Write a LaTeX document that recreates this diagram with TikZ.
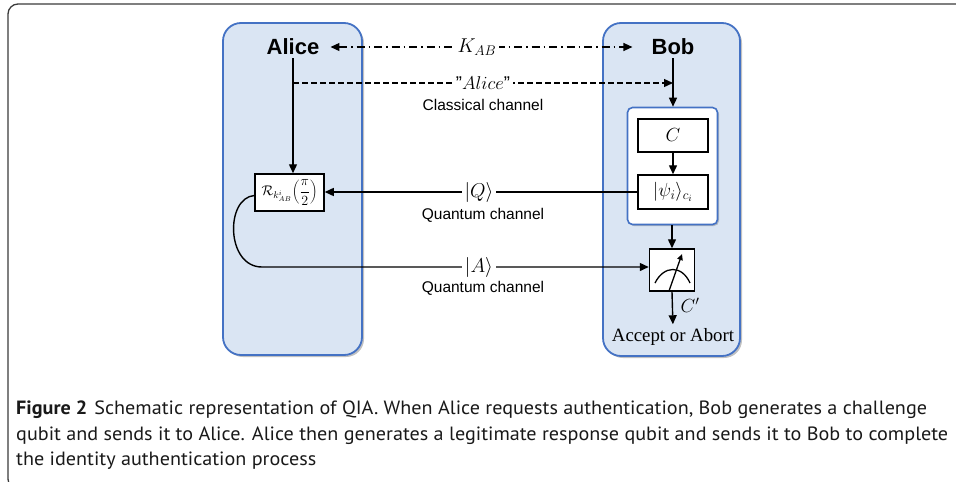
\RequirePackage{fix-cm}
\documentclass[tikz,border=0pt]{standalone}
\usepackage{fontspec}
\setmainfont{Liberation Sans}
\newfontfamily\seriffont{Liberation Serif}
\newfontfamily\capfont[FakeStretch=1.05]{PT Sans}
\usetikzlibrary{arrows.meta,shadows,calc}
\definecolor{boxblue}{HTML}{4472C4}
\definecolor{boxfill}{HTML}{DAE5F3}
\definecolor{framec}{HTML}{3A3A3A}
\begin{document}
\begin{tikzpicture}[x=1pt,y=-1pt,
  bigbox/.style={draw=boxblue, line width=1.8pt, fill=boxfill, rounded corners=18pt,
    drop shadow={shadow xshift=2pt, shadow yshift=-2pt, opacity=0.35, fill=black!70}},
  innerbox/.style={draw=boxblue, line width=1.6pt, fill=white, rounded corners=5pt,
    drop shadow={shadow xshift=1.5pt, shadow yshift=-1.5pt, opacity=0.3, fill=black!70}},
  sq/.style={draw=black, line width=1.5pt, fill=white, inner sep=0pt},
  conn/.style={line width=1.4pt, -{Triangle[length=9pt,width=8pt]}},
  dashconn/.style={line width=1.3pt, dash pattern=on 6pt off 3pt, -{Triangle[length=9pt,width=8pt]}},
  kabconn/.style={line width=1.3pt, dash pattern=on 8pt off 4pt on 1.5pt off 4pt,
    {Triangle[length=9pt,width=8pt]}-{Triangle[length=9pt,width=8pt]}},
  lbl/.style={fill=white, inner sep=3pt, font=\fontsize{20}{24}\selectfont},
  chan/.style={font=\fontsize{15.5}{18}\selectfont},
  who/.style={font=\bfseries\fontsize{22}{26}\selectfont, inner sep=0pt},
  captext/.style={font=\capfont\fontsize{19.2}{22}\selectfont, anchor=base west, inner sep=0pt, text=black!90}
]
\useasboundingbox (0,0) rectangle (956,482);
% outer frame
\draw[framec, line width=1.3pt, rounded corners=10pt] (962,4) -- (8,4) -- (8,489) -- (22,489);

% big boxes
\node[bigbox, minimum width=139pt, minimum height=332pt] (abox) at (292.5,189) {};
\node[bigbox, minimum width=137pt, minimum height=333pt] (bbox) at (671.5,189.5) {};
\node[innerbox, minimum width=90pt, minimum height=117pt] (ibox) at (672.5,166) {};

% texts
\node[who] (alice) at (293,47) {Alice};
\node[who] (bob) at (673,47) {Bob};

% boxes
\node[sq, minimum width=70pt, minimum height=33pt, font=\fontsize{19}{22}\selectfont] (cbox) at (673,135.5) {$C$};
\node[sq, minimum width=70pt, minimum height=34pt, font=\fontsize{19}{22}\selectfont] (psi) at (673,192) {$|\psi_i\rangle_{c_i}$};
\node[sq, minimum width=69pt, minimum height=37pt, font=\fontsize{14}{16}\selectfont] (rbox) at (289.5,192.5) {$\mathcal{R}_{k^i_{AB}}\!\left({\displaystyle\frac{\pi}{2}}\right)$};
\node[sq, minimum width=45pt, minimum height=42pt] (meter) at (672,270) {};
\node[font=\seriffont\fontsize{18.8}{21}\selectfont, inner sep=0pt] (acc) at (673,337) {Accept or Abort};

% K_AB
\draw[kabconn] ([xshift=11pt]alice.east) -- ([xshift=-19pt]bob.west);
\node[lbl, inner sep=3pt] (kab) at (477,47) {$K_{AB}$};

% classical channel
\coordinate (cl) at (293,83);
\draw[conn] ([yshift=-3pt]alice.south) -- (alice.south |- rbox.north);
\draw[dashconn] (cl) -- (cl -| bob.south);
\node[lbl, inner sep=3pt, font=\fontsize{18.5}{22}\selectfont] (alname) at (483,83) {"$Alice$"};
\node[chan] (cc) at (483,105) {Classical channel};

% Bob chain
\draw[conn] ([yshift=-3pt]bob.south) -- (bob.south |- ibox.north);
\draw[conn] (cbox) -- (psi);
\draw[conn] (ibox.south -| meter.north) -- (meter.north);

% quantum channel Q
\draw[conn] (psi.west) -- (psi.west -| rbox.east);
\node[lbl] (q) at (479,192) {$|Q\rangle$};
\node[chan] (qc1) at (483,215) {Quantum channel};

% quantum channel A
\coordinate (aline) at (262,267);
\draw[conn] ([yshift=-3pt]rbox.west) .. controls (225,198) and (226,267) .. (aline) -- (aline -| meter.west);
\node[lbl] (a) at (479,267) {$|A\rangle$};
\node[chan] (qc2) at (483,288) {Quantum channel};

% meter
\draw[line width=1.3pt] (655,283) .. controls (664,265) and (682,265) .. (690,283);
\draw[line width=1.3pt, -{Triangle[length=6pt,width=5.5pt]}] (669,291) -- (682,254);
\draw[conn, shorten >=4pt] (meter.south) -- (acc.north);
\node[font=\fontsize{19}{22}\selectfont] (cp) at (690,305) {$C'$};

% caption
\node[captext] (c1) at (16,414) {\textbf{Figure 2}\hspace{7pt}Schematic representation of QIA. When Alice requests authentication, Bob generates a challenge};
\node[captext] (c2) at (16,440) {qubit and sends it to Alice. Alice then generates a legitimate response qubit and sends it to Bob to complete};
\node[captext] (c3) at (16,465) {the identity authentication process};
\end{tikzpicture}
\end{document}
